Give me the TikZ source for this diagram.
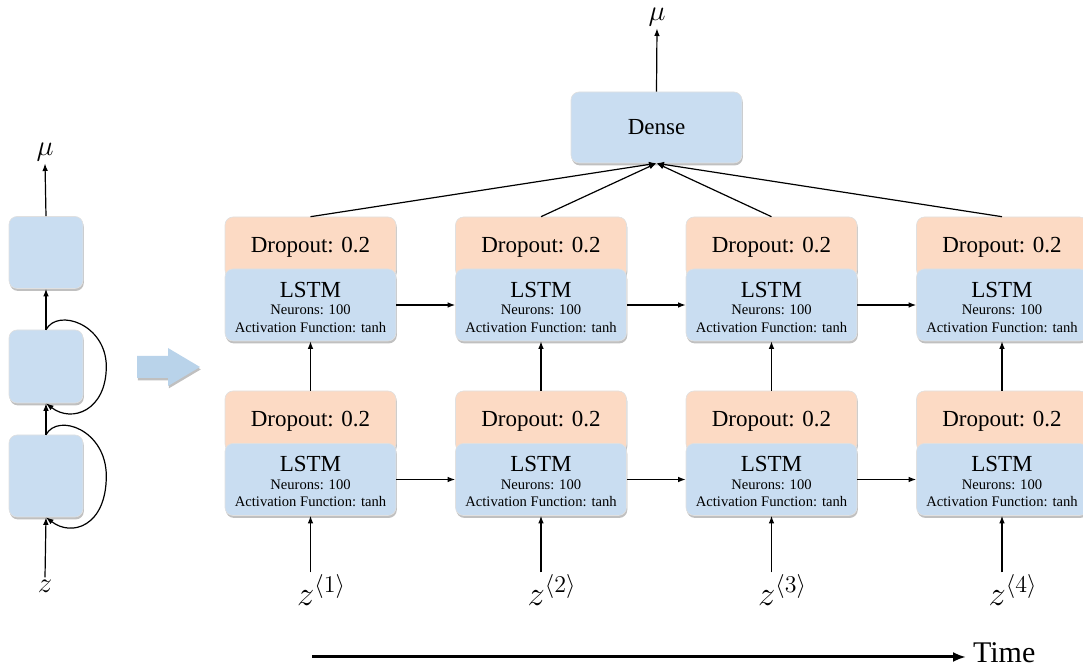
\documentclass[tikz,border=0pt]{standalone}
\usepackage{fontspec}
\setmainfont{Liberation Serif}
\usetikzlibrary{arrows.meta,shadows,calc}

\definecolor{cellblue}{HTML}{C9DDF1}
\definecolor{droporange}{HTML}{FCDAC4}
\definecolor{bigarrow}{HTML}{B9D3EA}

\tikzset{
  boxshadow/.style={drop shadow={shadow xshift=0.4pt,shadow yshift=-1.2pt,opacity=0.45,fill=black!55}},
  cellbox/.style={rectangle,rounded corners=4pt,fill=cellblue,draw=black!12,line width=0.3pt,boxshadow,minimum width=37pt,minimum height=36pt},
  lstmbox/.style={cellbox,minimum width=85.5pt,minimum height=36pt,align=center,inner sep=0pt,font=\fontsize{7.3}{8.8}\selectfont},
  dropbox/.style={cellbox,fill=droporange,minimum width=85.5pt,minimum height=30.5pt,font=\fontsize{11.5}{13}\selectfont},
  flow/.style={-{Latex[length=3.8pt,width=2.8pt]},line width=0.6pt},
  mathlabel/.style={font=\fontsize{15}{17}\selectfont,inner sep=1pt},
}

\newcommand{\lstmtext}{{\fontsize{11.5}{13}\selectfont\rule{0pt}{10pt}LSTM}\\Neurons: 100\\Activation Function: tanh}

\begin{document}
\begin{tikzpicture}[x=0.5pt,y=-0.5pt]
  \useasboundingbox (0,0) rectangle (1083,667);

  % Folded network on the left
  \node[cellbox] (outcell) at (46,252.5) {};
  \node[cellbox,minimum height=36.5pt] (midcell) at (46,366.5) {};
  \node[cellbox,minimum height=41pt] (incell) at (46,476) {};
  \node[mathlabel] (mufold) at (45,152) {$\mu$};
  \node[mathlabel] (zfold) at (45,586) {$z$};

  \draw[flow] (outcell.north) -- (mufold.south);
  \draw[flow] (midcell.north) -- (outcell.south);
  \draw[flow] (incell.north) -- (midcell.south);
  \draw[flow] (zfold.north) -- (incell.south);

  % Recurrent loops
  \draw[flow] (midcell.north) .. controls +(12,-22) and +(0,-42) .. ($(midcell.east)+(23,0)$)
    .. controls +(0,44) and +(26,20) .. (midcell.south);
  \draw[flow] (incell.north) .. controls +(12,-22) and +(0,-46) .. ($(incell.east)+(23,0)$)
    .. controls +(0,50) and +(26,20) .. (incell.south);

  % Unfold arrow
  \fill[bigarrow,boxshadow] (137,356) -- (168,356) -- (168,348) -- (200,367)
    -- (168,386) -- (168,378) -- (137,378) -- cycle;

  % Unrolled network
  \foreach \i/\x in {1/310.5,2/541,3/771.5,4/1002} {
    \node[dropbox] (dropT\i) at (\x,247.5) {Dropout: 0.2};
    \node[lstmbox] (lstmT\i) at (\x,305) {\lstmtext};
    \node[dropbox] (dropB\i) at (\x,421.5) {Dropout: 0.2};
    \node[lstmbox] (lstmB\i) at (\x,479.5) {\lstmtext};
    \node[mathlabel,font=\fontsize{17}{19}\selectfont] (z\i) at (\x+11,590) {$z^{\langle \i \rangle}$};
    \draw[flow] (dropB\i.north) -- (lstmT\i.south);
    \draw[flow] (lstmB\i.south |- z\i.north) -- (lstmB\i.south);
  }
  \foreach \i/\j in {1/2,2/3,3/4} {
    \draw[flow] (lstmT\i.east) -- (lstmT\j.west);
    \draw[flow] (lstmB\i.east) -- (lstmB\j.west);
  }

  % Dense output
  \node[cellbox,minimum width=85.5pt,minimum height=35.5pt,font=\fontsize{11.5}{13}\selectfont] (dense) at (656.5,127.5) {Dense};
  \node[mathlabel] (mutop) at (657,17) {$\mu$};
  \draw[flow] (dense.north) -- (mutop.south);
  \foreach \i in {1,...,4}
    \draw[flow] (dropT\i.north) -- (dense.south);

  % Time axis
  \coordinate (timestart) at (312,657);
  \node[font=\fontsize{15}{17}\selectfont,anchor=west] (time) at (966,653) {Time};
  \draw[line width=1.5pt,-{Latex[length=6.5pt,width=5pt]}] (timestart) -- (time.west |- timestart);
\end{tikzpicture}
\end{document}
